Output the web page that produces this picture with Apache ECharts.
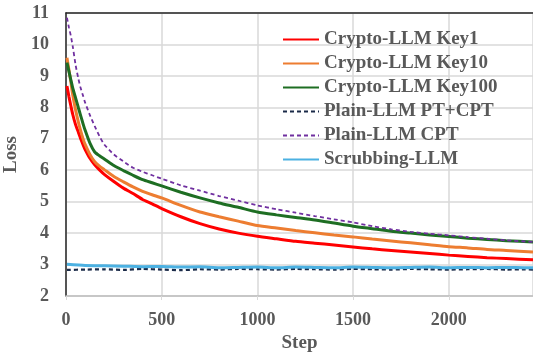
<!DOCTYPE html>
<html>
<head>
<meta charset="utf-8">
<script src="https://cdn.jsdelivr.net/npm/echarts@6/dist/echarts.min.js"></script>
<style>
  html, body { margin: 0; padding: 0; background: #fff; }
  #chart { width: 533px; height: 355px; }
</style>
</head>
<body>
<div id="chart"></div>
<script>
// steps for the decaying curves
const steps = [5, 15, 25, 35, 50, 65, 75, 90, 100, 125, 150, 175, 200, 250,
  300, 350, 400, 450, 500, 600, 700, 800, 900, 1000, 1100, 1200, 1300, 1400, 1500,
  1600, 1700, 1800, 1900, 2000, 2100, 2200, 2300, 2440];

const key1 = [8.68, 8.35, 8.06, 7.78, 7.45, 7.20, 7.03, 6.80, 6.66, 6.38, 6.17, 6.01, 5.87, 5.64,
  5.43, 5.26, 5.07, 4.93, 4.78, 4.52, 4.30, 4.13, 4.00, 3.90, 3.82, 3.74, 3.68, 3.62, 3.56,
  3.50, 3.45, 3.40, 3.35, 3.30, 3.26, 3.22, 3.19, 3.15];
const key10 = [9.58, 9.20, 8.82, 8.40, 7.92, 7.52, 7.29, 6.98, 6.82, 6.50, 6.27, 6.13, 6.02, 5.80,
  5.63, 5.47, 5.33, 5.22, 5.12, 4.88, 4.67, 4.52, 4.38, 4.24, 4.16, 4.08, 4.01, 3.94, 3.88,
  3.81, 3.75, 3.69, 3.63, 3.57, 3.53, 3.48, 3.45, 3.40];
const key100 = [9.42, 9.15, 8.88, 8.62, 8.30, 7.98, 7.77, 7.46, 7.27, 6.86, 6.58, 6.46, 6.36, 6.15,
  5.99, 5.84, 5.70, 5.60, 5.50, 5.30, 5.12, 4.96, 4.82, 4.67, 4.58, 4.50, 4.42, 4.32, 4.22,
  4.14, 4.06, 4.00, 3.94, 3.89, 3.84, 3.80, 3.76, 3.72];
const plainCpt = [10.85, 10.55, 10.28, 9.95, 9.35, 8.90, 8.65, 8.35, 8.15, 7.75, 7.40, 7.08, 6.82, 6.50,
  6.28, 6.08, 5.95, 5.84, 5.73, 5.52, 5.35, 5.18, 5.03, 4.88, 4.76, 4.65, 4.54, 4.44, 4.34,
  4.22, 4.12, 4.04, 3.98, 3.93, 3.87, 3.82, 3.77, 3.72];

// flat curves
const flatSteps = [5, 100, 200, 300, 400, 500, 600, 700, 800, 900, 1000, 1100, 1200, 1300, 1400, 1500,
  1600, 1700, 1800, 1900, 2000, 2100, 2200, 2300, 2400, 2440];
const plainPtCpt = [2.83, 2.84, 2.85, 2.83, 2.86, 2.84, 2.82, 2.85, 2.84, 2.86, 2.85, 2.84, 2.86, 2.85, 2.84, 2.86,
  2.85, 2.84, 2.86, 2.85, 2.84, 2.85, 2.86, 2.84, 2.85, 2.84];
const scrubbing = [3.01, 2.97, 2.96, 2.95, 2.93, 2.94, 2.92, 2.93, 2.90, 2.91, 2.92, 2.90, 2.92, 2.91, 2.90, 2.92,
  2.91, 2.90, 2.91, 2.92, 2.90, 2.91, 2.90, 2.91, 2.90, 2.90];

const seriesNames = ["Crypto-LLM Key1", "Crypto-LLM Key10", "Crypto-LLM Key100", "Plain-LLM PT+CPT", "Plain-LLM CPT", "Scrubbing-LLM"];

const FONT = "'Liberation Serif', 'Times New Roman', serif";
const GREY = "#595959";

const pair = (xs, ys) => xs.map((x, i) => [x, ys[i]]);

function line(name, xs, ys, color, width, dashed) {
  return {
    name,
    type: "line",
    data: pair(xs, ys),
    showSymbol: false,
    symbol: "none",
    smooth: 0.2,
    lineStyle: { color, width, type: dashed ? [4, 3] : "solid" },
    itemStyle: { color },
    animation: false,
  };
}

const chart = echarts.init(document.getElementById("chart"));

chart.setOption({
  backgroundColor: "#fff",
  grid: { left: 66, right: 0, top: 13, bottom: 59, containLabel: false, outerBoundsMode: "none" },
  legend: {
    orient: "vertical",
    left: 277,
    top: 25,
    itemWidth: 36,
    itemHeight: 10,
    itemGap: 5,
    itemStyle: { opacity: 0 },
    data: seriesNames,
    textStyle: { fontFamily: FONT, fontWeight: "bold", fontSize: 19, color: GREY },
  },
  xAxis: [
    {
      type: "value",
      min: 0,
      max: 2440,
      interval: 500,
      name: "Step",
      nameLocation: "middle",
      nameGap: 25,
      nameTextStyle: { fontFamily: FONT, fontWeight: "bold", fontSize: 19, color: GREY },
      axisLine: { show: true, lineStyle: { color: "#bfbfbf", width: 1.5 } },
      axisTick: { show: true, length: 4, lineStyle: { color: "#d9d9d9" } },
      splitLine: { show: true, lineStyle: { color: "#d9d9d9", width: 1.5 } },
      axisLabel: {
        margin: 15,
        fontFamily: FONT, fontWeight: "bold", fontSize: 18, color: GREY,
        formatter: (v) => (v % 500 === 0 ? String(v) : ""),
      },
    },
    {
      type: "value",
      position: "top",
      min: 0,
      max: 2440,
      axisLine: { show: true, lineStyle: { color: "#262626", width: 1.5 } },
      axisTick: { show: false },
      axisLabel: { show: false },
      splitLine: { show: false },
    },
  ],
  yAxis: {
    type: "value",
    min: 2,
    max: 11,
    interval: 1,
    name: "Loss",
    nameLocation: "middle",
    nameGap: 36,
    nameTextStyle: { fontFamily: FONT, fontWeight: "bold", fontSize: 19, color: GREY },
    axisLine: { show: true, lineStyle: { color: "#262626", width: 1.5 } },
    axisTick: { show: false },
    splitLine: { show: true, lineStyle: { color: "#d9d9d9", width: 1.5 } },
    axisLabel: { margin: 17, fontFamily: FONT, fontWeight: "bold", fontSize: 18, color: GREY },
  },
  series: [
    line(seriesNames[0], steps, key1, "#ff0000", 3, false),
    line(seriesNames[1], steps, key10, "#ed7d31", 3, false),
    line(seriesNames[2], steps, key100, "#1e6e23", 3, false),
    line(seriesNames[3], flatSteps, plainPtCpt, "#1a2a48", 2.2, true),
    line(seriesNames[4], steps, plainCpt, "#7030a0", 1.8, true),
    line(seriesNames[5], flatSteps, scrubbing, "#4cb1e2", 3, false),
  ],
});

window.addEventListener("resize", () => chart.resize());
</script>
</body>
</html>
